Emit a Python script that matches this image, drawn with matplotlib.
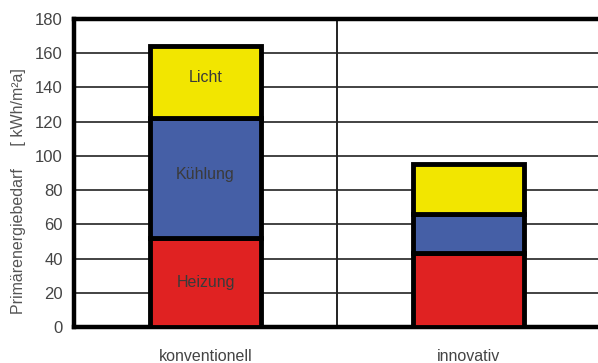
import matplotlib
matplotlib.use("Agg")
import matplotlib.pyplot as plt
import numpy as np

categories = ["konventionell", "innovativ"]
heizung = [52, 43]
kuehlung = [70, 23]
licht = [42, 29]
yticks = [0, 20, 40, 60, 80, 100, 120, 140, 160, 180]

plt.rcParams['font.family'] = ['Liberation Sans', 'DejaVu Sans']

fig = plt.figure(figsize=(5.98, 3.63), dpi=100)
ax = fig.add_axes([74/598, 1-327/363, 526/598, (327-19)/363])

x = np.arange(len(categories))
w = 0.42
ec = "black"
lw = 3.5
ax.bar(x, heizung, w, color="#E02222", edgecolor=ec, linewidth=lw, zorder=3)
ax.bar(x, kuehlung, w, bottom=heizung, color="#455FA6", edgecolor=ec, linewidth=lw, zorder=3)
bot2 = [a + b for a, b in zip(heizung, kuehlung)]
ax.bar(x, licht, w, bottom=bot2, color="#F2E600", edgecolor=ec, linewidth=lw, zorder=3)

tc = "#3a3a3a"
ax.text(x[0], heizung[0] * 0.5, "Heizung", ha="center", va="center", fontsize=11.5, color=tc, zorder=4)
ax.text(x[0], heizung[0] + kuehlung[0] * 0.53, "Kühlung", ha="center", va="center", fontsize=11.5, color=tc, zorder=4)
ax.text(x[0], bot2[0] + licht[0] * 0.56, "Licht", ha="center", va="center", fontsize=11.5, color=tc, zorder=4)

ax.set_xlim(-0.5, 1.5)
ax.set_ylim(0, 180)
ax.set_yticks(yticks)
ax.set_yticklabels([str(v) for v in yticks], fontsize=12, color="#444444")
ax.set_xticks(x)
ax.set_xticklabels(categories, fontsize=11.5, color="#444444")
ax.tick_params(axis="both", length=0)
ax.tick_params(axis="y", pad=8)
ax.tick_params(axis="x", pad=16)
ax.yaxis.grid(True, color="#222222", linewidth=1.2, zorder=1)
ax.axvline(0.5, color="#222222", linewidth=1.4, zorder=1)
for s in ["left", "bottom", "top"]:
    ax.spines[s].set_linewidth(3.2)
    ax.spines[s].set_color("black")
ax.spines["right"].set_visible(False)
ax.set_ylabel("Primärenergiebedarf     [ kWh/m²a]", fontsize=11.5, color="#555555", labelpad=4)
ax.yaxis.set_label_coords(-0.092, 0.44)

fig.savefig("out.png", dpi=100)
